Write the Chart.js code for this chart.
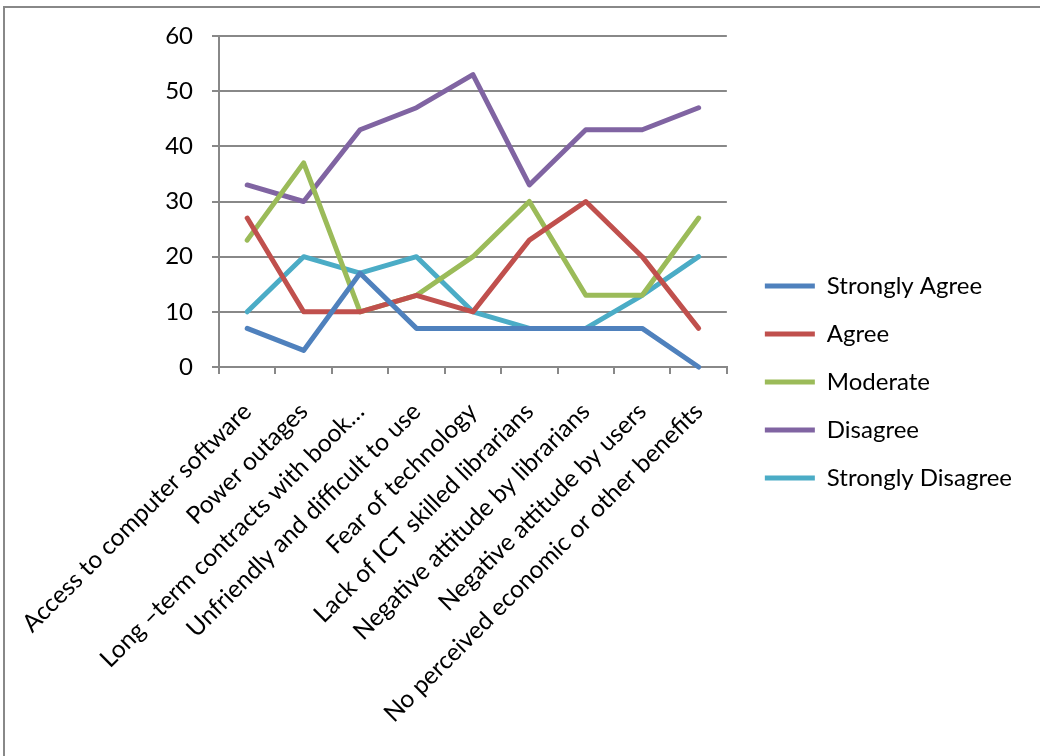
<!DOCTYPE html>
<html>
<head>
<meta charset="utf-8">
<script src="https://cdn.jsdelivr.net/npm/chart.js@4/dist/chart.umd.min.js"></script>
<style>
  html, body { margin: 0; padding: 0; background: #fff; }
  #wrap { position: relative; width: 1040px; height: 756px; overflow: hidden; }
  #frame { position: absolute; left: 3px; top: 6px; width: 1100px; height: 800px;
           border: 2px solid #888; box-sizing: border-box; }
  #c { position: absolute; left: 0; top: 0; }
</style>
</head>
<body>
<div id="wrap">
  <div id="frame"></div>
  <canvas id="c" width="1040" height="756"></canvas>
</div>
<script>
// Barriers (categories along the x axis)
const categories = [
  "Access to computer software",
  "Power outages",
  "Long \u2013term contracts with book\u2026",
  "Unfriendly and difficult to use",
  "Fear of technology",
  "Lack of ICT skilled librarians",
  "Negative attitude by librarians",
  "Negative attitude by users",
  "No perceived economic or other benefits"
];

// Responses per barrier
const stronglyAgree    = [7, 3, 17, 7, 7, 7, 7, 7, 0];
const agree            = [27, 10, 10, 13, 10, 23, 30, 20, 7];
const moderate         = [23, 37, 10, 13, 20, 30, 13, 13, 27];
const disagree         = [33, 30, 43, 47, 53, 33, 43, 43, 47];
const stronglyDisagree = [10, 20, 17, 20, 10, 7, 7, 13, 20];

const seriesNames = ["Strongly Agree", "Agree", "Moderate", "Disagree", "Strongly Disagree"];
const seriesValues = [stronglyAgree, agree, moderate, disagree, stronglyDisagree];
const seriesColors = ["#4F81BD", "#C0504D", "#9BBB59", "#8064A2", "#4BACC6"];

// Value axis tick labels
const yTickValues = [0, 10, 20, 30, 40, 50, 60];

const FONT = "Lato";
const AXIS_GRAY = "#888888";
const PLOT_BOTTOM = 367;
const BOTTOM_PAD = 28;

const datasets = seriesNames.map((name, i) => ({
  label: name,
  data: seriesValues[i],
  borderColor: seriesColors[i],
  backgroundColor: seriesColors[i],
  borderWidth: 5,
  borderCapStyle: "round",
  borderJoinStyle: "round",
  pointRadius: 0,
  pointHoverRadius: 0,
  tension: 0,
  fill: false,
  clip: 10
}));

new Chart(document.getElementById("c"), {
  type: "line",
  data: { labels: categories, datasets },
  options: {
    responsive: false,
    animation: false,
    devicePixelRatio: 1,
    events: [],
    layout: { padding: { top: 36, left: 0, right: 18, bottom: BOTTOM_PAD } },
    plugins: {
      tooltip: { enabled: false },
      legend: {
        position: "right",
        align: "center",
        maxWidth: 400,
        labels: {
          usePointStyle: true,
          pointStyle: "line",
          pointStyleWidth: 50,
          padding: 24,
          color: "#000",
          font: { family: FONT, size: 24 }
        }
      }
    },
    scales: {
      x: {
        type: "category",
        offset: true,
        grid: {
          display: true,
          offset: true,
          drawOnChartArea: false,
          drawTicks: true,
          tickLength: 7,
          color: AXIS_GRAY,
          lineWidth: 2
        },
        border: { display: true, color: AXIS_GRAY, width: 2 },
        ticks: {
          autoSkip: false,
          maxRotation: 45,
          minRotation: 45,
          padding: 23,
          color: "#000",
          font: { family: FONT, size: 24.5 }
        },
        afterFit: (s) => { s.paddingLeft = 0; s.paddingRight = 0; s.height = 756 - BOTTOM_PAD - PLOT_BOTTOM; }
      },
      y: {
        type: "linear",
        min: 0,
        max: 60,
        afterBuildTicks: (s) => { s.ticks = yTickValues.map(v => ({ value: v })); },
        grid: {
          color: AXIS_GRAY,
          lineWidth: 2,
          drawTicks: true,
          tickLength: 7
        },
        border: { display: true, color: AXIS_GRAY, width: 2 },
        ticks: {
          padding: 19,
          color: "#000",
          font: { family: FONT, size: 24 }
        },
        afterFit: (s) => { s.width = 219; }
      },
      gap: {
        type: "linear",
        position: "right",
        display: true,
        grid: { display: false },
        border: { display: false },
        ticks: { display: false },
        afterFit: (s) => { s.width = 14; }
      }
    }
  }
});
</script>
</body>
</html>
